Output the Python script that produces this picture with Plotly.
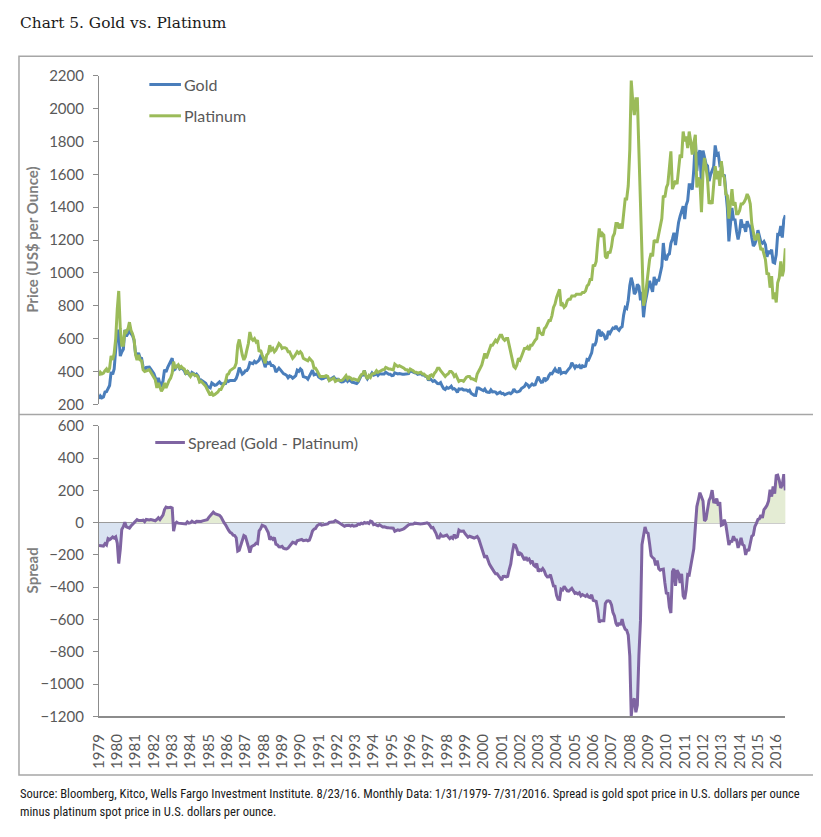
import plotly.graph_objects as go
import pandas as pd

PAGE_W, PAGE_H = 821, 837
BODY_MARGIN = 8                      # default browser body margin
W, H = PAGE_W - 2 * BODY_MARGIN, PAGE_H - 2 * BODY_MARGIN

# ---------------- data ----------------
years = list(range(1979, 2017))
year_labels = [str(y) for y in years]

# Monthly (end of month) gold price, US$/oz, Jan 1979 - Jul 2016
gold = [
    233, 251, 240, 245, 275, 277, 296, 315, 397, 382, 415, 512,   # 1979
    653, 637, 494, 518, 535, 653, 614, 631, 666, 629, 619, 590,   # 1980
    506, 489, 513, 482, 479, 426, 406, 425, 428, 427, 414, 397,   # 1981
    387, 362, 320, 361, 325, 317, 342, 411, 397, 423, 440, 456,   # 1982
    481, 408, 414, 433, 437, 416, 423, 415, 405, 382, 405, 382,   # 1983
    370, 394, 388, 376, 384, 373, 342, 348, 341, 333, 329, 309,   # 1984
    303, 300, 330, 320, 316, 318, 327, 336, 326, 325, 325, 327,   # 1985
    346, 339, 345, 345, 343, 345, 357, 384, 424, 401, 384, 391,   # 1986
    405, 406, 421, 454, 451, 447, 462, 453, 460, 469, 492, 484,   # 1987
    458, 426, 457, 449, 455, 437, 437, 428, 397, 412, 421, 410,   # 1988
    394, 387, 383, 377, 362, 373, 369, 359, 366, 375, 408, 401,   # 1989
    416, 407, 369, 368, 363, 353, 372, 387, 408, 380, 384, 386,   # 1990
    367, 363, 355, 357, 360, 367, 362, 347, 354, 358, 366, 353,   # 1991
    354, 353, 341, 336, 337, 343, 357, 340, 349, 339, 334, 333,   # 1992
    330, 327, 337, 355, 377, 378, 406, 372, 355, 370, 375, 391,   # 1993
    378, 381, 389, 376, 387, 385, 384, 385, 395, 389, 383, 383,   # 1994
    375, 376, 392, 389, 385, 387, 383, 383, 383, 383, 387, 387,   # 1995
    405, 400, 396, 392, 390, 382, 385, 387, 379, 379, 371, 369,   # 1996
    345, 358, 348, 340, 345, 334, 326, 325, 332, 311, 296, 290,   # 1997
    303, 297, 301, 310, 293, 296, 288, 273, 294, 292, 294, 288,   # 1998
    287, 288, 280, 286, 268, 261, 255, 254, 299, 299, 292, 290,   # 1999
    283, 293, 277, 274, 273, 288, 276, 277, 274, 264, 270, 274,   # 2000
    265, 267, 258, 264, 267, 270, 265, 273, 293, 279, 275, 277,   # 2001
    282, 296, 301, 309, 326, 319, 305, 313, 324, 317, 319, 347,   # 2002
    368, 348, 334, 336, 361, 346, 354, 375, 388, 386, 398, 416,   # 2003
    399, 396, 424, 388, 393, 395, 391, 408, 416, 426, 453, 438,   # 2004
    422, 435, 429, 436, 417, 435, 430, 433, 473, 470, 496, 513,   # 2005
    569, 556, 582, 644, 653, 613, 633, 623, 599, 604, 646, 632,   # 2006
    650, 665, 662, 677, 659, 650, 666, 673, 743, 789, 783, 834,   # 2007
    923, 971, 934, 871, 885, 930, 918, 833, 884, 730, 814, 870,   # 2008
    919, 952, 916, 884, 976, 926, 955, 955, 996, 1040, 1182, 1088,  # 2009
    1078, 1109, 1116, 1180, 1207, 1244, 1169, 1246, 1307, 1346, 1383, 1406,  # 2010
    1327, 1411, 1439, 1536, 1536, 1506, 1628, 1813, 1620, 1722, 1746, 1531,  # 2011
    1744, 1711, 1662, 1651, 1558, 1598, 1622, 1648, 1776, 1720, 1726, 1657,  # 2012
    1664, 1588, 1598, 1469, 1394, 1192, 1314, 1395, 1326, 1324, 1253, 1204,  # 2013
    1251, 1326, 1284, 1288, 1250, 1315, 1285, 1285, 1216, 1164, 1175, 1206,  # 2014
    1260, 1214, 1187, 1180, 1191, 1172, 1098, 1135, 1115, 1142, 1065, 1060,  # 2015
    1111, 1234, 1233, 1285, 1215, 1321, 1351,                               # 2016
]

# Monthly (end of month) platinum price, US$/oz, Jan 1979 - Jul 2016
platinum = [
    375, 395, 385, 390, 405, 415, 395, 420, 495, 470, 510, 600,   # 1979
    780, 890, 660, 560, 560, 650, 640, 660, 700, 650, 630, 595,   # 1980
    500, 470, 500, 470, 465, 410, 400, 405, 410, 410, 395, 380,   # 1981
    370, 350, 300, 330, 305, 280, 295, 330, 300, 330, 345, 360,   # 1982
    390, 460, 420, 430, 440, 420, 430, 420, 415, 390, 400, 385,   # 1983
    370, 385, 385, 375, 375, 365, 335, 340, 330, 320, 310, 290,   # 1984
    270, 255, 270, 255, 260, 265, 275, 290, 290, 310, 325, 340,   # 1985
    380, 385, 405, 410, 420, 425, 450, 560, 595, 540, 500, 470,   # 1986
    490, 530, 570, 640, 600, 590, 600, 580, 590, 520, 530, 500,   # 1987
    480, 450, 500, 510, 560, 530, 540, 520, 530, 550, 570, 560,   # 1988
    540, 545, 545, 540, 520, 520, 500, 480, 490, 505, 520, 510,   # 1989
    520, 510, 480, 475, 470, 465, 480, 470, 460, 420, 420, 405,   # 1990
    380, 370, 370, 370, 370, 375, 370, 345, 350, 355, 360, 340,   # 1991
    345, 350, 345, 345, 350, 365, 375, 355, 365, 360, 350, 355,   # 1992
    350, 345, 345, 365, 380, 385, 405, 375, 355, 375, 365, 385,   # 1993
    390, 390, 405, 395, 400, 405, 410, 410, 425, 420, 415, 415,   # 1994
    410, 410, 445, 440, 430, 435, 430, 425, 420, 410, 410, 400,   # 1995
    415, 410, 405, 395, 395, 390, 395, 395, 385, 385, 375, 370,   # 1996
    350, 375, 380, 370, 390, 400, 420, 420, 405, 395, 380, 370,   # 1997
    380, 385, 400, 400, 390, 370, 380, 360, 340, 345, 345, 340,   # 1998
    355, 365, 370, 370, 355, 355, 350, 345, 385, 400, 420, 440,   # 1999
    470, 510, 480, 510, 530, 560, 560, 580, 590, 580, 600, 620,   # 2000
    620, 600, 590, 600, 600, 560, 520, 460, 430, 420, 440, 480,   # 2001
    470, 490, 520, 540, 540, 550, 530, 560, 560, 580, 590, 600,   # 2002
    670, 640, 630, 620, 660, 670, 690, 710, 710, 740, 790, 810,   # 2003
    850, 870, 900, 800, 810, 790, 800, 830, 840, 840, 860, 860,   # 2004
    860, 870, 870, 870, 870, 880, 880, 890, 920, 930, 960, 960,   # 2005
    1050, 1040, 1070, 1180, 1270, 1220, 1240, 1230, 1100, 1090, 1130, 1120,  # 2006
    1160, 1220, 1240, 1300, 1300, 1270, 1300, 1270, 1380, 1450, 1450, 1530,  # 2007
    1750, 2170, 2040, 1960, 2060, 2060, 1740, 1440, 1020, 800, 840, 930,     # 2008
    985, 1080, 1120, 1100, 1200, 1190, 1190, 1240, 1290, 1330, 1470, 1460,   # 2009
    1520, 1540, 1640, 1740, 1510, 1530, 1560, 1540, 1620, 1720, 1700, 1860,  # 2010
    1800, 1830, 1760, 1860, 1800, 1720, 1790, 1840, 1520, 1580, 1560, 1370,  # 2011
    1610, 1700, 1640, 1570, 1420, 1440, 1420, 1520, 1650, 1570, 1620, 1530,  # 2012
    1680, 1600, 1580, 1480, 1470, 1330, 1430, 1510, 1410, 1430, 1360, 1360,  # 2013
    1380, 1420, 1420, 1430, 1450, 1480, 1460, 1420, 1300, 1240, 1200, 1210,  # 2014
    1240, 1190, 1140, 1150, 1110, 1080, 990, 1000, 910, 980, 840, 880,       # 2015
    820, 940, 970, 1070, 980, 1020, 1150,                                    # 2016
]

series_names = ["Gold", "Platinum", "Spread (Gold - Platinum)"]

dates = pd.date_range("1979-01-31", periods=len(gold), freq="ME")
spread = [g - p for g, p in zip(gold, platinum)]

# ---------------- helpers (page pixel -> paper) ----------------
def fx(x):
    return (x - BODY_MARGIN) / W

def fy(y):
    return 1 - (y - BODY_MARGIN) / H

GOLD_C = "#4a7ebb"
PLAT_C = "#9bbb59"
SPREAD_C = "#7f64a2"
AXIS_C = "#8c8c8c"
TXT_C = "#595959"
FONT = "Lato, 'Open Sans', sans-serif"

fig = go.Figure()

# spread fill (thin vertical bars)
bar_colors = ["#d9e3f1" if v < 0 else "#e4ecd4" for v in spread]
fig.add_trace(go.Bar(
    x=dates, y=spread, xaxis="x2", yaxis="y2",
    marker=dict(color=bar_colors, line=dict(width=0)),
    width=14 * 24 * 3600 * 1000, showlegend=False, hoverinfo="skip",
))

fig.add_trace(go.Scatter(x=dates, y=gold, mode="lines", name=series_names[0],
                         line=dict(color=GOLD_C, width=3), showlegend=False))
fig.add_trace(go.Scatter(x=dates, y=platinum, mode="lines", name=series_names[1],
                         line=dict(color=PLAT_C, width=3), showlegend=False))
fig.add_trace(go.Scatter(x=dates, y=spread, mode="lines", name=series_names[2],
                         xaxis="x2", yaxis="y2",
                         line=dict(color=SPREAD_C, width=3), showlegend=False))

xrange = [dates[0], dates[-1]]
tickvals = [pd.Timestamp(f"{y}-01-31") for y in years]

common_y = dict(
    showgrid=False, zeroline=False, showline=True, linecolor=AXIS_C, linewidth=1,
    ticks="outside", ticklen=5, tickcolor=AXIS_C, dtick=200,
    tickfont=dict(family=FONT, size=15, color=TXT_C), ticklabelstandoff=6,
)

fig.update_layout(
    width=W, height=H, autosize=False,
    margin=dict(l=0, r=0, t=0, b=0),
    paper_bgcolor="white", plot_bgcolor="rgba(0,0,0,0)",
    showlegend=False, bargap=0,
    xaxis=dict(domain=[fx(90), fx(785)], range=xrange, type="date",
               visible=False, anchor="y"),
    yaxis=dict(domain=[fy(403), fy(67)], range=[200, 2200], anchor="x", **common_y),
    xaxis2=dict(domain=[fx(90), fx(785)], range=xrange, type="date", anchor="y2",
                showgrid=False, zeroline=False, showline=True, linecolor=AXIS_C,
                linewidth=1.5, ticks="", tickvals=tickvals, ticktext=year_labels,
                tickangle=-90, ticklabelstandoff=10,
                tickfont=dict(family=FONT, size=15, color=TXT_C)),
    yaxis2=dict(domain=[fy(722), fy(425)], range=[-1200, 600], anchor="x2",
                **common_y),
)

# zero line of the spread panel
fig.add_shape(type="line", xref="x2", yref="y2", x0=dates[0], x1=dates[-1],
              y0=0, y1=0, line=dict(color="#9a9a9a", width=1.5), layer="below")

# outer frame and divider
fig.add_shape(type="rect", xref="paper", yref="paper",
              x0=fx(9), x1=fx(816), y0=fy(782), y1=fy(47),
              line=dict(color="#a6a6a6", width=1.5))
fig.add_shape(type="line", xref="paper", yref="paper",
              x0=fx(9), x1=fx(816), y0=fy(413.5), y1=fy(413.5),
              line=dict(color="#a6a6a6", width=1.5))

# manual legends
legend_items = [
    (series_names[0], GOLD_C, 141, 173, 76),
    (series_names[1], PLAT_C, 141, 173, 108),
    (series_names[2], SPREAD_C, 147, 177, 442),
]
for name, col, x0, x1, yy in legend_items:
    fig.add_shape(type="line", xref="paper", yref="paper",
                  x0=fx(x0), x1=fx(x1), y0=fy(yy), y1=fy(yy),
                  line=dict(color=col, width=3))
    fig.add_annotation(xref="paper", yref="paper", x=fx(x1 + 1), y=fy(yy),
                       text=name, showarrow=False, xanchor="left", yanchor="middle",
                       font=dict(family=FONT, size=16, color=TXT_C))

# axis titles
fig.add_annotation(xref="paper", yref="paper", x=fx(22), y=fy(235),
                   text="<b>Price (US$ per Ounce)</b>", textangle=-90, showarrow=False,
                   xanchor="center", yanchor="middle",
                   font=dict(family=FONT, size=15, color="#7f7f7f"))
fig.add_annotation(xref="paper", yref="paper", x=fx(22), y=fy(573),
                   text="<b>Spread</b>", textangle=-90, showarrow=False,
                   xanchor="center", yanchor="middle",
                   font=dict(family=FONT, size=15, color="#7f7f7f"))

# chart title
fig.add_annotation(xref="paper", yref="paper", x=fx(8), y=fy(13),
                   text="Chart 5. Gold vs. Platinum", showarrow=False,
                   xanchor="left", yanchor="middle",
                   font=dict(family="'DejaVu Serif', serif", size=15.4, color="#1a1a1a"))

# source notes
SRC_FONT = "'Liberation Sans Narrow', 'Roboto Condensed', 'Liberation Sans', sans-serif"
source_lines = [
    "Source: Bloomberg, Kitco, Wells Fargo Investment Institute. 8/23/16. Monthly Data: "
    "1/31/1979- 7/31/2016. Spread is gold spot price in U.S. dollars per ounce",
    "minus platinum spot price in U.S. dollars per ounce.",
]
for i, line in enumerate(source_lines):
    fig.add_annotation(xref="paper", yref="paper", x=fx(8), y=fy(801 + 18 * i),
                       text=line, showarrow=False, xanchor="left", yanchor="middle",
                       font=dict(family=SRC_FONT, size=12.6, color="#1a1a1a"))

fig.write_html("out.html", config={"displayModeBar": False})
